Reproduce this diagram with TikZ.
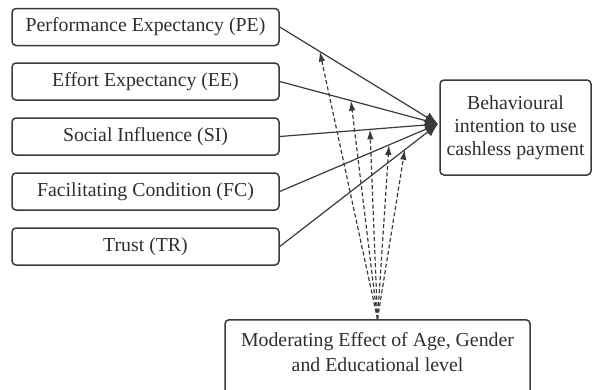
\documentclass[tikz,border=0pt]{standalone}
\usepackage{fontspec}
\setmainfont{Liberation Serif}
\usetikzlibrary{arrows.meta,calc}
\definecolor{ink}{HTML}{3A3A3A}
\definecolor{txt}{HTML}{2E2E2E}
\begin{document}
\begin{tikzpicture}[x=1pt,y=-1pt,
  lbl/.style={font=\fontsize{19.8}{23}\selectfont,text=txt,align=center},
  box/.style={lbl,draw=ink,line width=1.5pt,rounded corners=4pt,inner sep=0pt},
  leftbox/.style={box,minimum width=267pt,minimum height=37pt},
  solidarr/.style={draw=ink,line width=1.2pt,-{Latex[length=13pt,width=11pt]}},
  dasharr/.style={draw=ink,line width=1.2pt,dash pattern=on 4pt off 2.5pt,
    -{Latex[length=10pt,width=6.5pt]}}]
\useasboundingbox (0,0) rectangle (593,389);
\node[leftbox] (pe) at (145.5,27) {Performance Expectancy (PE)};
\node[leftbox] (ee) at (145.5,81.5) {Effort Expectancy (EE)};
\node[leftbox] (si) at (145.5,136.5) {Social Influence (SI)};
\node[leftbox] (fc) at (145.5,191.5) {Facilitating Condition (FC)};
\node[leftbox] (tr) at (145.5,246.5) {Trust (TR)};
\node[box,minimum width=151pt,minimum height=95pt] (beh) at (515.5,127.5)
  {Behavioural\\intention to use\\cashless payment};
\node[box,minimum width=305pt,minimum height=90pt,anchor=north] (mod) at (377.5,319) {};
\node[lbl,font=\fontsize{19.8}{25}\selectfont,anchor=north] (modtxt) at (377.5,329)
  {Moderating Effect of Age, Gender\\and Educational level};
\coordinate (tgt) at (438,124);
\foreach \n in {pe,ee,si,fc,tr}{
  \draw[solidarr] (\n.east) -- (tgt);
}
\draw[dasharr] (mod.north) -- ($(pe.east)!0.253!(tgt)$);
\draw[dasharr] (mod.north) -- ($(ee.east)!0.45!(tgt)$);
\draw[dasharr] (mod.north) -- ($(si.east)!0.57!(tgt)$);
\draw[dasharr] (mod.north) -- ($(fc.east)!0.69!(tgt)$);
\draw[dasharr] (mod.north) -- ($(tr.east)!0.79!(tgt)$);
\end{tikzpicture}
\end{document}
